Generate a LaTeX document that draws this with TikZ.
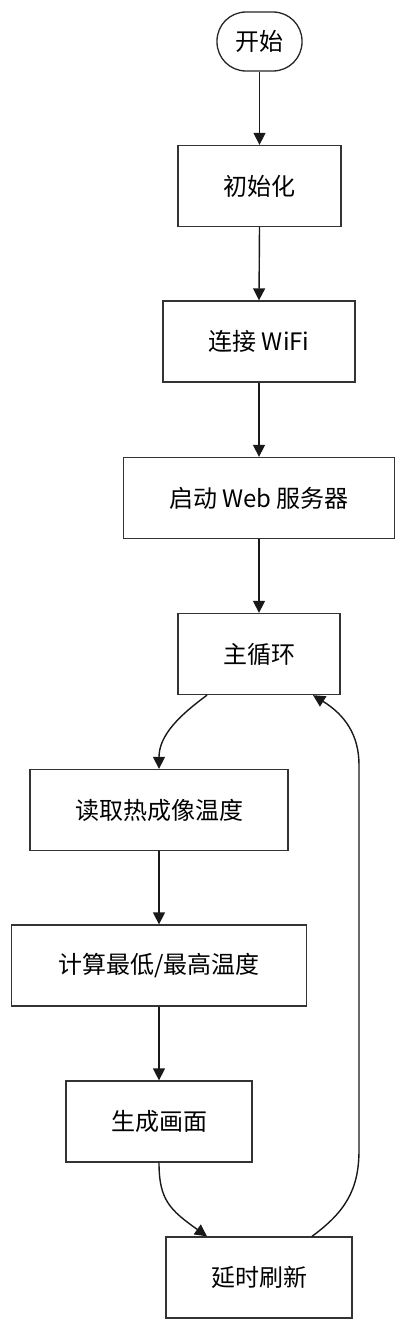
\documentclass[tikz,border=0pt]{standalone}
\usepackage{fontspec}
\setmainfont{Noto Sans CJK SC}
\usetikzlibrary{arrows.meta}
\begin{document}
\begin{tikzpicture}[x=1pt,y=-1pt,
  every node/.style={font=\fontsize{24}{27}\selectfont, text=black, inner sep=0pt},
  procbox/.style={draw=black!80, line width=1.3pt, fill=white, rectangle},
  termbox/.style={draw=black!85, line width=1.3pt, fill=white, rectangle, rounded corners=29pt},
  flow/.style={draw=black!90, line width=1.4pt, -{Triangle[length=12pt,width=12pt]}}]
\useasboundingbox (0,0) rectangle (406,1330);
\node[termbox, minimum width=85pt, minimum height=59pt] (start) at (259.5,41.5) {开始};
\node[procbox, minimum width=163pt, minimum height=81pt] (init) at (259.5,186) {初始化};
\node[procbox, minimum width=192pt, minimum height=81pt] (wifi) at (259,341.5) {连接 WiFi};
\node[procbox, minimum width=271pt, minimum height=81pt] (web) at (259,498) {启动 Web 服务器};
\node[procbox, minimum width=162pt, minimum height=81pt] (loop) at (259,654) {主循环};
\node[procbox, minimum width=258pt, minimum height=81pt] (read) at (159,810) {读取热成像温度};
\node[procbox, minimum width=295pt, minimum height=81pt] (calc) at (159,965.5) {计算最低/最高温度};
\node[procbox, minimum width=186pt, minimum height=81pt] (draw) at (159,1121.5) {生成画面};
\node[procbox, minimum width=186pt, minimum height=81pt] (delay) at (259,1277.5) {延时刷新};

\draw[flow] (start.south) -- (init.north);
\draw[flow] (init.south) -- (wifi.north);
\draw[flow] (wifi.south) -- (web.north);
\draw[flow] (web.south) -- (loop.north);
\coordinate (loopL) at ([xshift=-52pt]loop.south);
\coordinate (loopR) at ([xshift=54pt]loop.south);
\draw[flow] (loopL) .. controls (180,715) and (159,735) .. (read.north);
\draw[flow] (read.south) -- (calc.north);
\draw[flow] (calc.south) -- (draw.north);
\coordinate (delayL) at ([xshift=-52pt]delay.north);
\coordinate (delayR) at ([xshift=53pt]delay.north);
\draw[flow] (draw.south) .. controls (159,1200) and (170,1210) .. (delayL);
\draw[flow] (delayR) .. controls (345,1212) and (359,1190) .. (359,1150) -- (359,765) .. controls (359,735) and (345,715) .. (loopR);
\end{tikzpicture}
\end{document}
